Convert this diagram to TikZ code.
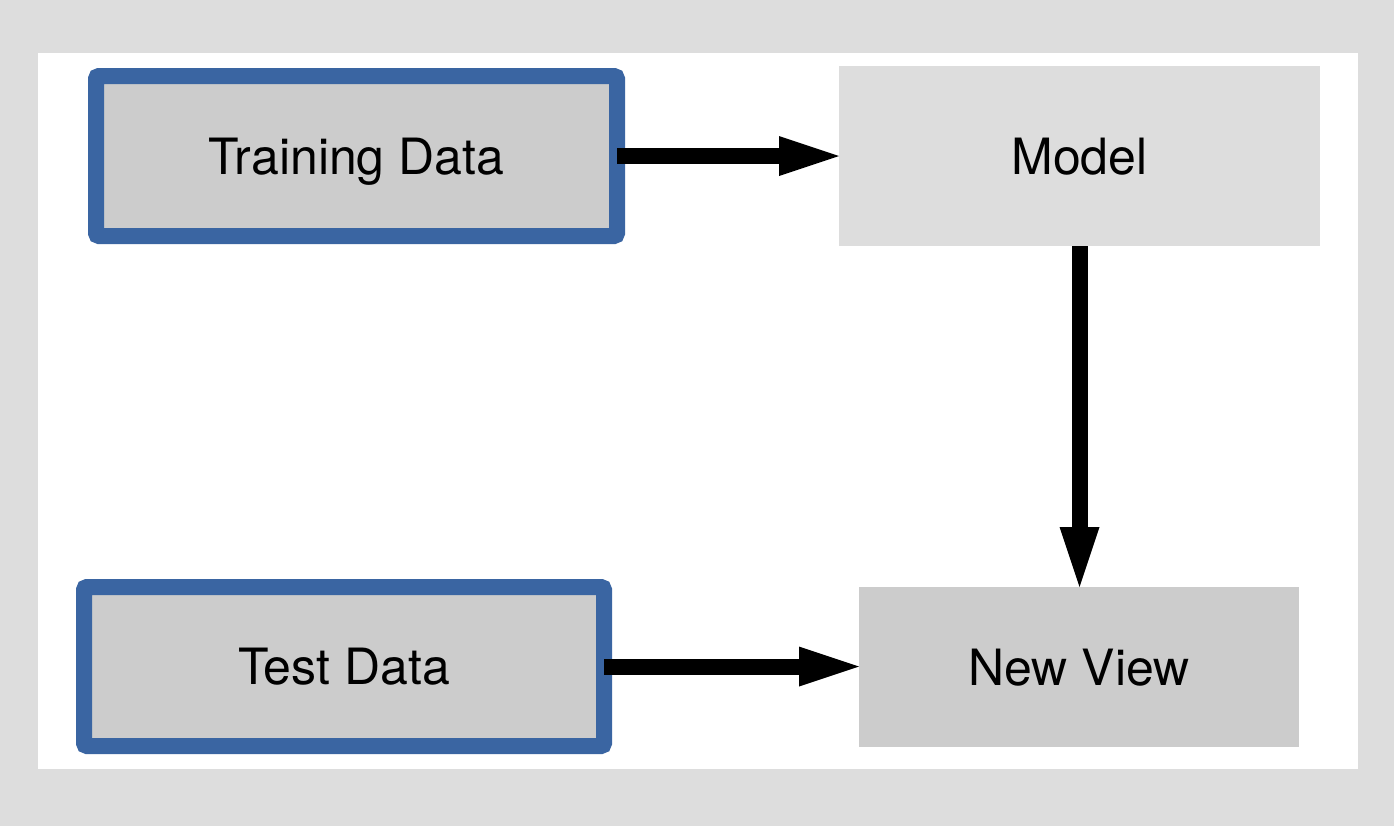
\documentclass[tikz,border=0pt]{standalone}
\usepackage{fontspec}
\setmainfont{TeX Gyre Heros}
\usetikzlibrary{arrows.meta}
\definecolor{bgray}{HTML}{DDDDDD}
\definecolor{boxgray}{HTML}{CCCCCC}
\definecolor{lightbox}{HTML}{DDDDDD}
\definecolor{dblue}{HTML}{3A65A2}
\begin{document}
\begin{tikzpicture}[x=0.5pt,y=-0.5pt,
  base/.style={inner sep=0pt,outer sep=0pt,text height=18pt,text depth=0pt,
    font=\fontsize{25pt}{30pt}\selectfont},
  databox/.style={base,draw=dblue,fill=boxgray,line width=8pt,rounded corners=1.5pt},
  plainbox/.style={base},
  flow/.style={line width=8pt,-{Triangle[length=30pt,width=20pt,line width=0pt]}}
]
\fill[bgray] (0,0) rectangle (1394,826);
\fill[white] (38,53) rectangle (1358,769);
\useasboundingbox (0,0) rectangle (1394,826);

\node[databox,minimum width=260.5pt,minimum height=80pt] (train) at (356.5,156) {Training Data};
\node[databox,minimum width=260pt,minimum height=79.5pt] (test) at (344,666.5) {Test Data};
\node[plainbox,fill=lightbox,minimum width=240.5pt,minimum height=90pt] (model) at (1079.5,156) {Model};
\node[plainbox,fill=boxgray,minimum width=220pt,minimum height=80pt] (view) at (1079,667) {New View};

\draw[flow] (train.east) -- (model.west |- train.east);
\draw[flow] (model.south) -- (model.south |- view.north);
\draw[flow] (test.east) -- (view.west |- test.east);
\end{tikzpicture}
\end{document}
